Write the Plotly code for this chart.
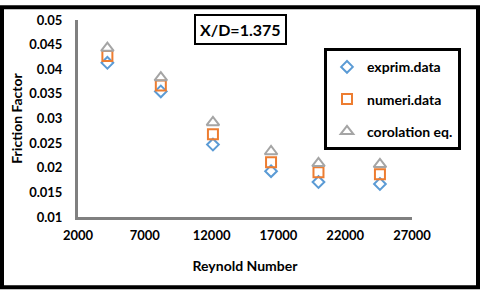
import plotly.graph_objects as go

reynolds = [4200, 8200, 12100, 16450, 20000, 24600]
exprim = [0.0413, 0.0355, 0.0247, 0.0193, 0.0171, 0.0167]
numeri = [0.0427, 0.0367, 0.0268, 0.0211, 0.0191, 0.0187]
corolation = [0.0443, 0.0383, 0.0292, 0.0233, 0.0209, 0.0207]
x_ticks = [2000, 7000, 12000, 17000, 22000, 27000]
x_ticktext = ["2000", "7000", "12000", "17000", "22000", "27000"]
y_ticks = [0.01, 0.015, 0.02, 0.025, 0.03, 0.035, 0.04, 0.045, 0.05]
y_ticktext = ["0.01", "0.015", "0.02", "0.025", "0.03", "0.035", "0.04", "0.045", "0.05"]

FONT = "Lato"
W, H = 480, 291
ML, MR, MT, MB = 78, 68, 15, 74
PW, PH = W - ML - MR, H - MT - MB

fig = go.Figure()
fig.add_trace(go.Scatter(x=reynolds, y=exprim, mode="markers", name="exprim.data",
                         legendgroup="a",
                         marker=dict(symbol="diamond-open", size=9, color="#5B9BD5",
                                     line=dict(width=2, color="#5B9BD5"))))
fig.add_trace(go.Scatter(x=reynolds, y=numeri, mode="markers", name="numeri.data",
                         legendgroup="b",
                         marker=dict(symbol="square-open", size=10, color="#ED7D31",
                                     line=dict(width=2, color="#ED7D31"))))
fig.add_trace(go.Scatter(x=reynolds, y=corolation, mode="markers", name="corolation eq.",
                         legendgroup="c",
                         marker=dict(symbol="triangle-up-open", size=11, color="#A5A5A5",
                                     line=dict(width=2, color="#A5A5A5"))))

def px(xp):
    return (xp - ML) / PW

def py(yp):
    return (H - MB - yp) / PH

fig.update_layout(
    width=W, height=H,
    margin=dict(l=ML, r=MR, t=MT, b=MB),
    paper_bgcolor="white", plot_bgcolor="white",
    font=dict(family=FONT, size=12, color="#000000", weight="bold"),
    showlegend=True,
    legend=dict(x=px(324), y=py(44), xanchor="left", yanchor="top",
                bordercolor="black", borderwidth=3, bgcolor="white",
                font=dict(family=FONT, size=14, weight="bold"),
                traceorder="grouped", tracegroupgap=11, itemwidth=30),
    xaxis=dict(range=[2000, 27000], tickvals=x_ticks, ticktext=x_ticktext, ticks="",
               showgrid=False, zeroline=False, showline=True, linecolor="#808080", linewidth=3,
               ticklabelstandoff=4,
               title=dict(text="Reynold Number", font=dict(size=14, weight="bold"), standoff=20),
               tickfont=dict(size=13, weight="bold")),
    yaxis=dict(range=[0.01, 0.05], tickvals=y_ticks, ticktext=y_ticktext, ticks="",
               showgrid=False, zeroline=False, showline=True, linecolor="#808080", linewidth=3,
               ticklabelstandoff=10,
               title=dict(text="Friction Factor", font=dict(size=14, weight="bold"), standoff=4),
               tickfont=dict(size=13, weight="bold")),
    annotations=[dict(text="X/D=1.375", xref="paper", yref="paper", x=px(240), y=py(25),
                      xanchor="center", yanchor="middle",
                      showarrow=False, font=dict(size=16, weight="bold", family=FONT),
                      bordercolor="black", borderwidth=2, borderpad=4, bgcolor="white")],
    shapes=[dict(type="rect", xref="paper", yref="paper",
                 x0=px(2), x1=px(W - 2), y0=py(H - 2), y1=py(2),
                 line=dict(color="black", width=4), layer="above")],
)

fig.write_html("out.html", config={"displayModeBar": False},
               post_script="document.body.style.margin='0';")
